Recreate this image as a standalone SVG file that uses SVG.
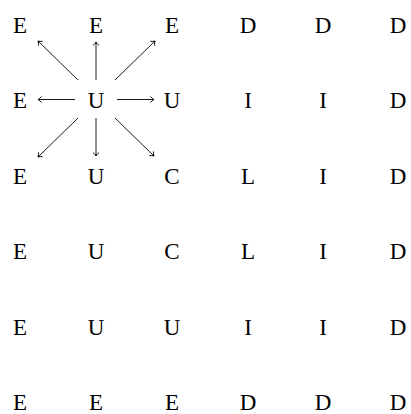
<svg xmlns="http://www.w3.org/2000/svg" width="411" height="414" viewBox="0 0 411 414">
<style>
text{font-family:"Liberation Serif","DejaVu Serif",serif;font-size:23px;fill:#000;text-anchor:middle}
.c line{stroke:#000;stroke-width:0.9;fill:none}
</style>
<defs>
<marker id="ah" markerWidth="8" markerHeight="8" refX="5" refY="4" orient="auto" markerUnits="userSpaceOnUse">
<path d="M1.5,1 Q3,3 5,4 Q3,5 1.5,7" fill="none" stroke="#000" stroke-width="0.9"/>
</marker>
</defs>
<rect width="411" height="414" fill="#fff"/>
<g id="r1"><text x="20" y="33">E</text><text x="96" y="33">E</text><text x="172" y="33">E</text><text x="248" y="33">D</text><text x="323" y="33">D</text><text x="398" y="33">D</text></g>
<g id="r2"><text x="20" y="108">E</text><text id="center" x="96" y="108">U</text><text x="172" y="108">U</text><text x="248" y="108">I</text><text x="323" y="108">I</text><text x="398" y="108">D</text></g>
<g id="r3"><text x="20" y="184">E</text><text x="96" y="184">U</text><text x="172" y="184">C</text><text x="248" y="184">L</text><text x="323" y="184">I</text><text x="398" y="184">D</text></g>
<g id="r4"><text x="20" y="259">E</text><text x="96" y="259">U</text><text x="172" y="259">C</text><text x="248" y="259">L</text><text x="323" y="259">I</text><text x="398" y="259">D</text></g>
<g id="r5"><text x="20" y="335">E</text><text x="96" y="335">U</text><text x="172" y="335">U</text><text x="248" y="335">I</text><text x="323" y="335">I</text><text x="398" y="335">D</text></g>
<g id="r6"><text x="20" y="410">E</text><text x="96" y="410">E</text><text x="172" y="410">E</text><text x="248" y="410">D</text><text x="323" y="410">D</text><text x="398" y="410">D</text></g>
<g class="c" id="connectors">
<line x1="96" y1="80" x2="96" y2="42" marker-end="url(#ah)"/>
<line x1="96" y1="118" x2="96" y2="156" marker-end="url(#ah)"/>
<line x1="75" y1="99.5" x2="38" y2="99.5" marker-end="url(#ah)"/>
<line x1="117" y1="99.5" x2="154" y2="99.5" marker-end="url(#ah)"/>
<line x1="78" y1="80" x2="38" y2="41" marker-end="url(#ah)"/>
<line x1="115" y1="80" x2="155" y2="41" marker-end="url(#ah)"/>
<line x1="78" y1="118" x2="38" y2="157" marker-end="url(#ah)"/>
<line x1="115" y1="118" x2="154" y2="156" marker-end="url(#ah)"/>
</g>
</svg>
